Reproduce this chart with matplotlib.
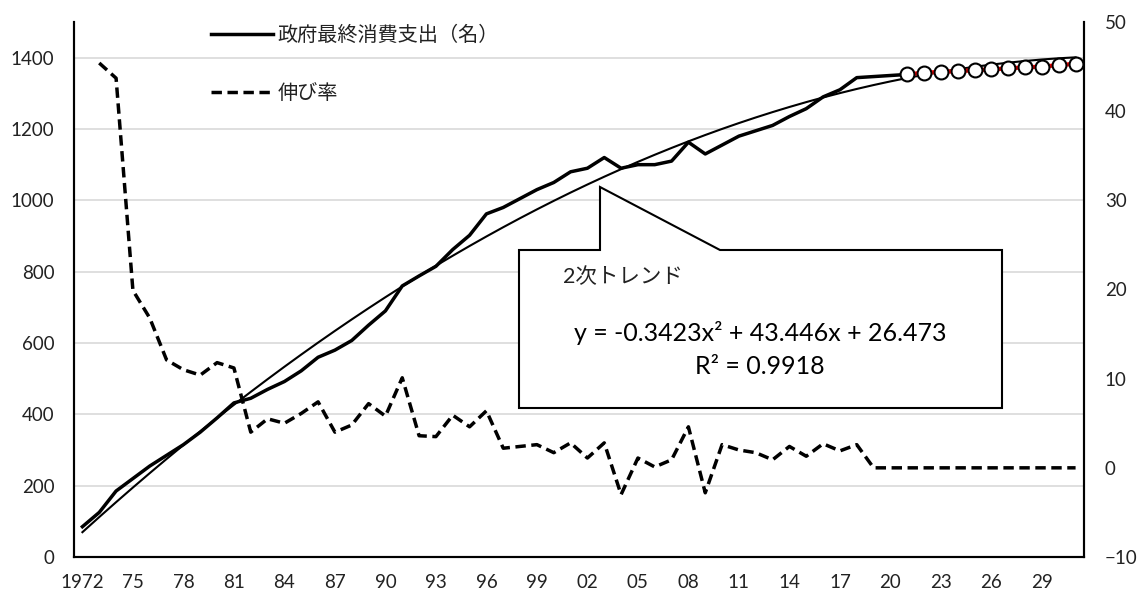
import numpy as np
import matplotlib
matplotlib.use('Agg')
import matplotlib.pyplot as plt
from matplotlib.patches import Polygon

plt.rcParams['font.family'] = ['Lato', 'Noto Sans CJK JP', 'DejaVu Sans']

# categories 1972..2031
years = list(range(1972, 2032))
tick_labels = ['1972'] + [f'{y % 100:02d}' for y in years[3::3]]

# 政府最終消費支出（名）, 1972..2021
actual = [85, 125, 185, 220, 255, 285, 315, 350, 390, 432,
          445, 470, 492, 522, 560, 580, 607, 650, 690, 760,
          788, 815, 862, 902, 962, 980, 1005, 1030, 1050, 1080,
          1090, 1120, 1090, 1100, 1100, 1110, 1163, 1130, 1155, 1180,
          1195, 1210, 1235, 1257, 1290, 1310, 1344, 1347, 1350, 1353]

# forecast points, 2021..2031
forecast = [1353, 1358, 1360, 1362, 1365, 1367, 1370, 1373, 1375, 1379, 1383]

# 伸び率 (%), 1973..2031
growth = [45.4, 43.7, 19.9, 16.8, 12.1, 11.0, 10.4, 11.8, 11.2,
          4.0, 5.5, 5.0, 6.1, 7.4, 4.0, 4.8, 7.2, 5.8, 10.1,
          3.6, 3.5, 5.9, 4.6, 6.4, 2.2, 2.4, 2.6, 1.7, 2.8,
          1.1, 2.8, -3.0, 1.1, 0.1, 0.9, 4.6, -2.8, 2.6, 2.0,
          1.7, 0.9, 2.4, 1.3, 2.7, 1.9, 2.6, 0, 0, 0,
          0, 0, 0, 0, 0, 0, 0, 0, 0, 0]

# quadratic trend printed on the chart (x = 1..60)
trend_coef = [-0.3423, 43.446, 26.473]

idx = np.arange(len(years))
trend = np.polyval(trend_coef, idx + 1)

fig = plt.figure(figsize=(11.38, 5.95), dpi=100)
ax = fig.add_axes([74 / 1138, 38 / 595, 1010 / 1138, 535 / 595])
ax2 = ax.twinx()

ax.plot(idx[:len(actual)], actual, color='black', lw=2.5, zorder=3,
        label='政府最終消費支出（名）')
ax.plot(idx, trend, color='black', lw=1.5, zorder=3)
f0 = len(actual) - 1
ax.plot(idx[f0:f0 + len(forecast)], forecast, color='red', lw=3, zorder=4)
ax.plot(idx[f0:f0 + len(forecast)], forecast, ls='none', marker='o',
        ms=10, mfc='white', mec='black', mew=1.5, zorder=5)
ax2.plot(idx[1:], growth, color='black', lw=2.5, ls=(0, (3, 1.6)), label='伸び率')

ax.set_xlim(-0.5, len(years) - 0.5)
ax.set_ylim(0, 1500)
ax.set_yticks(range(0, 1401, 200))
ax2.set_ylim(-10, 50)
ax2.set_yticks(range(-10, 51, 10))
ax.set_xticks(idx[::3])
ax.set_xticklabels(tick_labels)

ax.yaxis.grid(True, color='#d9d9d9', lw=1.2)
ax.set_axisbelow(True)
for a in (ax, ax2):
    a.spines['top'].set_visible(False)
    for s in ('left', 'right', 'bottom'):
        a.spines[s].set_linewidth(1.5)
        a.spines[s].set_color('black')
ax.tick_params(axis='both', length=0, labelsize=13.5, colors='#222222')
ax.tick_params(axis='y', pad=14)
ax.tick_params(axis='x', pad=12)
ax2.tick_params(axis='y', length=0, labelsize=13.5, colors='#222222', pad=15)

h1, l1 = ax.get_legend_handles_labels()
h2, l2 = ax2.get_legend_handles_labels()
leg = ax2.legend(h1 + h2, l1 + l2, loc='upper left', frameon=False,
                 bbox_to_anchor=(211 / 1138, 1 - 25 / 595),
                 bbox_transform=fig.transFigure, fontsize=14.5,
                 handlelength=3.1, handletextpad=0.2, labelspacing=1.9,
                 borderpad=0, borderaxespad=0)
for t in leg.get_texts():
    t.set_color('#222222')

# callout box with pointer
W, H = 1138, 595
pts = [(519, 250), (600, 250), (600, 187), (720, 250), (1002, 250),
       (1002, 408), (519, 408)]
callout = Polygon([(x / W, 1 - y / H) for x, y in pts], closed=True,
                  transform=fig.transFigure, facecolor='white',
                  edgecolor='black', lw=1.5, zorder=10)
fig.patches.append(callout)
fig.text(563 / W, 1 - 277 / H, '2次トレンド', fontsize=15.5, va='center',
         ha='left', color='#222222', zorder=11)
fig.text(760 / W, 1 - 333 / H, 'y = -0.3423x² + 43.446x + 26.473',
         fontsize=18, va='center', ha='center', color='black', zorder=11)
fig.text(760 / W, 1 - 366 / H, 'R² = 0.9918', fontsize=18,
         va='center', ha='center', color='black', zorder=11)

fig.savefig('out.png', dpi=100)
